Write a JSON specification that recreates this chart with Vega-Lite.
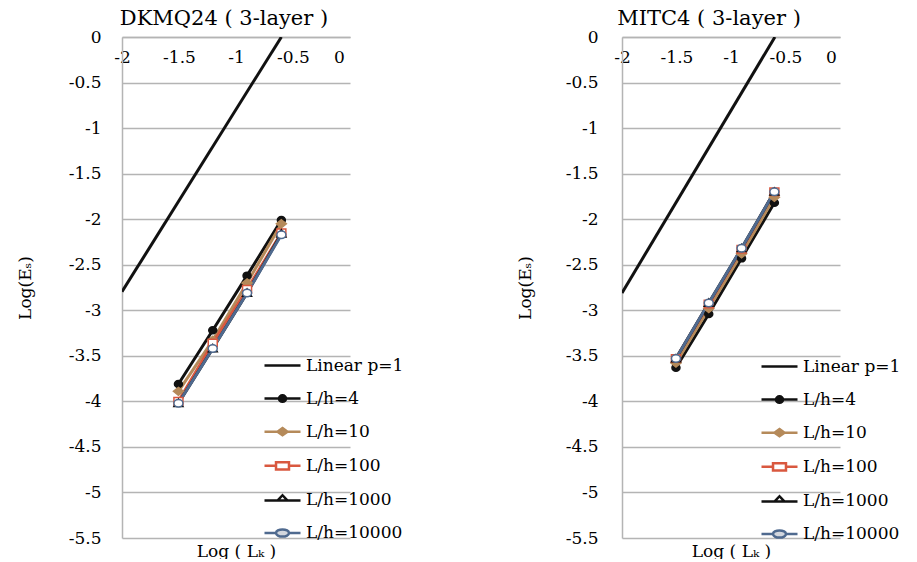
{
  "$schema": "https://vega.github.io/schema/vega-lite/v6.json",
  "background": "white",
  "padding": {"left": 16, "top": 8, "right": 0, "bottom": 0},
  "datasets": {
    "dkmq": [
      {"series": "Linear p=1", "x": -2.0, "y": -2.796},
      {"series": "Linear p=1", "x": -0.602, "y": 0.0},
      {"series": "L/h=4", "x": -1.505, "y": -3.81},
      {"series": "L/h=4", "x": -1.204, "y": -3.22},
      {"series": "L/h=4", "x": -0.903, "y": -2.62},
      {"series": "L/h=4", "x": -0.602, "y": -2.01},
      {"series": "L/h=10", "x": -1.505, "y": -3.89},
      {"series": "L/h=10", "x": -1.204, "y": -3.33},
      {"series": "L/h=10", "x": -0.903, "y": -2.70},
      {"series": "L/h=10", "x": -0.602, "y": -2.05},
      {"series": "L/h=100", "x": -1.505, "y": -4.00},
      {"series": "L/h=100", "x": -1.204, "y": -3.36},
      {"series": "L/h=100", "x": -0.903, "y": -2.77},
      {"series": "L/h=100", "x": -0.602, "y": -2.15},
      {"series": "L/h=1000", "x": -1.505, "y": -4.02},
      {"series": "L/h=1000", "x": -1.204, "y": -3.42},
      {"series": "L/h=1000", "x": -0.903, "y": -2.81},
      {"series": "L/h=1000", "x": -0.602, "y": -2.16},
      {"series": "L/h=10000", "x": -1.505, "y": -4.02},
      {"series": "L/h=10000", "x": -1.204, "y": -3.42},
      {"series": "L/h=10000", "x": -0.903, "y": -2.81},
      {"series": "L/h=10000", "x": -0.602, "y": -2.17}
    ],
    "mitc": [
      {"series": "Linear p=1", "x": -2.0, "y": -2.81},
      {"series": "Linear p=1", "x": -0.597, "y": 0.0},
      {"series": "L/h=4", "x": -1.505, "y": -3.63},
      {"series": "L/h=4", "x": -1.204, "y": -3.04},
      {"series": "L/h=4", "x": -0.903, "y": -2.43},
      {"series": "L/h=4", "x": -0.602, "y": -1.82},
      {"series": "L/h=10", "x": -1.505, "y": -3.58},
      {"series": "L/h=10", "x": -1.204, "y": -2.98},
      {"series": "L/h=10", "x": -0.903, "y": -2.38},
      {"series": "L/h=10", "x": -0.602, "y": -1.76},
      {"series": "L/h=100", "x": -1.505, "y": -3.53},
      {"series": "L/h=100", "x": -1.204, "y": -2.93},
      {"series": "L/h=100", "x": -0.903, "y": -2.33},
      {"series": "L/h=100", "x": -0.602, "y": -1.70},
      {"series": "L/h=1000", "x": -1.505, "y": -3.53},
      {"series": "L/h=1000", "x": -1.204, "y": -2.92},
      {"series": "L/h=1000", "x": -0.903, "y": -2.32},
      {"series": "L/h=1000", "x": -0.602, "y": -1.70},
      {"series": "L/h=10000", "x": -1.505, "y": -3.53},
      {"series": "L/h=10000", "x": -1.204, "y": -2.92},
      {"series": "L/h=10000", "x": -0.903, "y": -2.32},
      {"series": "L/h=10000", "x": -0.602, "y": -1.70}
    ]
  },
  "config": {
    "view": {"stroke": null},
    "font": "DejaVu Serif",
    "title": {"font": "DejaVu Serif", "fontSize": 21, "fontWeight": "normal", "color": "#000000", "offset": -1},
    "axis": {
      "labelFont": "DejaVu Serif", "labelFontSize": 17, "labelColor": "#000000",
      "titleFont": "DejaVu Serif", "titleFontSize": 17, "titleFontWeight": "normal", "titleColor": "#000000",
      "gridColor": "#b4b4b4", "gridWidth": 1.5, "domainColor": "#b4b4b4", "domainWidth": 1.5,
      "ticks": false, "tickSize": 0, "labelOverlap": false, "labelFlush": false
    },
    "legend": {
      "labelFont": "DejaVu Serif", "labelFontSize": 17, "labelColor": "#000000"
    }
  },
  "bounds": "flush",
  "spacing": 272,
  "resolve": {
    "scale": {"x": "independent", "y": "independent", "color": "independent", "shape": "independent", "fill": "independent", "stroke": "independent"},
    "legend": {"color": "independent"}
  },
  "hconcat": [
    {
      "width": 228,
      "height": 501,
      "title": {"text": "DKMQ24 ( 3-layer )", "dx": -12},
      "data": {"name": "dkmq"},
      "layer": [
        {
          "mark": {"type": "line", "strokeWidth": 3, "clip": true},
          "encoding": {
            "x": {"field": "x", "type": "quantitative", "scale": {"domain": [-2, 0], "nice": false},
              "axis": {"orient": "top", "values": [-2, -1.5, -1, -0.5, 0], "grid": false, "domain": true, "title": null,
                "labelPadding": -29, "labelExpr": "'' + datum.value",
                "labelOffset": {"condition": {"test": "datum.value === 0", "value": -11}, "value": 0}}},
            "y": {"field": "y", "type": "quantitative", "scale": {"domain": [-5.5, 0], "nice": false},
              "axis": {"values": [0, -0.5, -1, -1.5, -2, -2.5, -3, -3.5, -4, -4.5, -5, -5.5], "grid": true, "domain": true,
                "labelPadding": 21, "labelExpr": "'' + datum.value", "title": "Log(Eₛ)", "titlePadding": 34}},
            "color": {"field": "series", "type": "nominal",
              "scale": {"domain": ["Linear p=1", "L/h=4", "L/h=10", "L/h=100", "L/h=1000", "L/h=10000"],
                "range": ["#111111", "#111111", "#b58a5a", "#d9583f", "#111111", "#4f6a8f"]},
              "legend": {"orient": "none", "legendX": 141, "legendY": 309, "title": null, "direction": "vertical",
                "symbolSize": 1296, "symbolStrokeWidth": 2.5, "rowPadding": 5.1, "labelOffset": 4,
                "encode": {"symbols": {"update": {
                  "shape": {"signal": "datum.value==='Linear p=1'?'M-1,0H1':datum.value==='L/h=4'?'M-1,0H1M0.2,0A0.2,0.18,0,1,1,-0.2,0A0.2,0.18,0,1,1,0.2,0':datum.value==='L/h=10'?'M-1,0H1M0,-0.2L0.28,0L0,0.2L-0.28,0Z':datum.value==='L/h=100'?'M-1,0H-0.36M0.36,0H1M-0.36,-0.2H0.36V0.2H-0.36Z':datum.value==='L/h=1000'?'M-1,0.04H-0.28M0.28,0.04H1M-0.28,0.04L0,-0.26L0.28,0.04Z':'M-1,0H-0.36M0.36,0H1M0.36,0A0.36,0.2,0,1,1,-0.36,0A0.36,0.2,0,1,1,0.36,0'"},
                  "fill": {"signal": "datum.value==='L/h=4'?'#111111':datum.value==='L/h=10'?'#b58a5a':datum.value==='Linear p=1'?'transparent':datum.value==='L/h=10000'?'#d3d7de':'white'"},
                  "stroke": {"signal": "datum.value==='L/h=10'?'#b58a5a':datum.value==='L/h=100'?'#d9583f':datum.value==='L/h=10000'?'#4f6a8f':'#111111'"},
                  "strokeWidth": {"value": 2.5},
                  "opacity": {"value": 1}
                }}}}}
          }
        },
        {
          "transform": [{"filter": "datum.series !== 'Linear p=1'"}],
          "mark": {"type": "point", "filled": false, "strokeWidth": 1.5, "size": 100, "opacity": 1},
          "encoding": {
            "x": {"field": "x", "type": "quantitative",
              "axis": {"orient": "bottom", "labels": false, "domain": false, "grid": false, "title": "Log ( Lₖ )", "titlePadding": 5}},
            "y": {"field": "y", "type": "quantitative"},
            "shape": {"field": "series", "type": "nominal", "legend": null,
              "scale": {"domain": ["L/h=4", "L/h=10", "L/h=100", "L/h=1000", "L/h=10000"],
                "range": ["M0.8,0A0.8,0.7,0,1,1,-0.8,0A0.8,0.7,0,1,1,0.8,0", "M0,-0.8L1,0L0,0.8L-1,0Z", "M-0.9,-0.75H0.9V0.75H-0.9Z", "M-0.9,0.65L0,-0.8L0.9,0.65Z", "M0.9,0A0.9,0.75,0,1,1,-0.9,0A0.9,0.75,0,1,1,0.9,0"]}},
            "stroke": {"field": "series", "type": "nominal", "legend": null,
              "scale": {"domain": ["L/h=4", "L/h=10", "L/h=100", "L/h=1000", "L/h=10000"],
                "range": ["#111111", "#b58a5a", "#d9583f", "#111111", "#4f6a8f"]}},
            "fill": {"field": "series", "type": "nominal", "legend": null,
              "scale": {"domain": ["L/h=4", "L/h=10", "L/h=100", "L/h=1000", "L/h=10000"],
                "range": ["#111111", "#b58a5a", "#ffffff", "#ffffff", "#ffffff"]}}
          }
        }
      ]
    },
    {
      "width": 218,
      "height": 501,
      "title": {"text": "MITC4 ( 3-layer )", "dx": -22},
      "data": {"name": "mitc"},
      "layer": [
        {
          "mark": {"type": "line", "strokeWidth": 3, "clip": true},
          "encoding": {
            "x": {"field": "x", "type": "quantitative", "scale": {"domain": [-2, 0], "nice": false},
              "axis": {"orient": "top", "values": [-2, -1.5, -1, -0.5, 0], "grid": false, "domain": true, "title": null,
                "labelPadding": -29, "labelExpr": "'' + datum.value",
                "labelOffset": {"condition": {"test": "datum.value === 0", "value": -9}, "value": 0}}},
            "y": {"field": "y", "type": "quantitative", "scale": {"domain": [-5.5, 0], "nice": false},
              "axis": {"values": [0, -0.5, -1, -1.5, -2, -2.5, -3, -3.5, -4, -4.5, -5, -5.5], "grid": true, "domain": true,
                "labelPadding": 24, "labelExpr": "'' + datum.value", "title": "Log(Eₛ)", "titlePadding": 31}},
            "color": {"field": "series", "type": "nominal",
              "scale": {"domain": ["Linear p=1", "L/h=4", "L/h=10", "L/h=100", "L/h=1000", "L/h=10000"],
                "range": ["#111111", "#111111", "#b58a5a", "#d9583f", "#111111", "#4f6a8f"]},
              "legend": {"orient": "none", "legendX": 138, "legendY": 310, "title": null, "direction": "vertical",
                "symbolSize": 1296, "symbolStrokeWidth": 2.5, "rowPadding": 5.1, "labelOffset": 4,
                "encode": {"symbols": {"update": {
                  "shape": {"signal": "datum.value==='Linear p=1'?'M-1,0H1':datum.value==='L/h=4'?'M-1,0H1M0.2,0A0.2,0.18,0,1,1,-0.2,0A0.2,0.18,0,1,1,0.2,0':datum.value==='L/h=10'?'M-1,0H1M0,-0.2L0.28,0L0,0.2L-0.28,0Z':datum.value==='L/h=100'?'M-1,0H-0.36M0.36,0H1M-0.36,-0.2H0.36V0.2H-0.36Z':datum.value==='L/h=1000'?'M-1,0.04H-0.28M0.28,0.04H1M-0.28,0.04L0,-0.26L0.28,0.04Z':'M-1,0H-0.36M0.36,0H1M0.36,0A0.36,0.2,0,1,1,-0.36,0A0.36,0.2,0,1,1,0.36,0'"},
                  "fill": {"signal": "datum.value==='L/h=4'?'#111111':datum.value==='L/h=10'?'#b58a5a':datum.value==='Linear p=1'?'transparent':datum.value==='L/h=10000'?'#d3d7de':'white'"},
                  "stroke": {"signal": "datum.value==='L/h=10'?'#b58a5a':datum.value==='L/h=100'?'#d9583f':datum.value==='L/h=10000'?'#4f6a8f':'#111111'"},
                  "strokeWidth": {"value": 2.5},
                  "opacity": {"value": 1}
                }}}}}
          }
        },
        {
          "transform": [{"filter": "datum.series !== 'Linear p=1'"}],
          "mark": {"type": "point", "filled": false, "strokeWidth": 1.5, "size": 100, "opacity": 1},
          "encoding": {
            "x": {"field": "x", "type": "quantitative",
              "axis": {"orient": "bottom", "labels": false, "domain": false, "grid": false, "title": "Log ( Lₖ )", "titlePadding": 5}},
            "y": {"field": "y", "type": "quantitative"},
            "shape": {"field": "series", "type": "nominal", "legend": null,
              "scale": {"domain": ["L/h=4", "L/h=10", "L/h=100", "L/h=1000", "L/h=10000"],
                "range": ["M0.8,0A0.8,0.7,0,1,1,-0.8,0A0.8,0.7,0,1,1,0.8,0", "M0,-0.8L1,0L0,0.8L-1,0Z", "M-0.9,-0.75H0.9V0.75H-0.9Z", "M-0.9,0.65L0,-0.8L0.9,0.65Z", "M0.9,0A0.9,0.75,0,1,1,-0.9,0A0.9,0.75,0,1,1,0.9,0"]}},
            "stroke": {"field": "series", "type": "nominal", "legend": null,
              "scale": {"domain": ["L/h=4", "L/h=10", "L/h=100", "L/h=1000", "L/h=10000"],
                "range": ["#111111", "#b58a5a", "#d9583f", "#111111", "#4f6a8f"]}},
            "fill": {"field": "series", "type": "nominal", "legend": null,
              "scale": {"domain": ["L/h=4", "L/h=10", "L/h=100", "L/h=1000", "L/h=10000"],
                "range": ["#111111", "#b58a5a", "#ffffff", "#ffffff", "#ffffff"]}}
          }
        }
      ]
    }
  ]
}
